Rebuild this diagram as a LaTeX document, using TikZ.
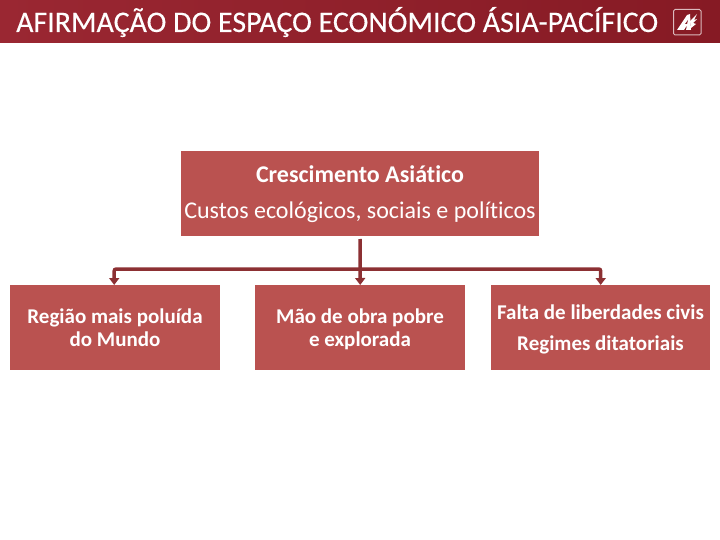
\documentclass[tikz,border=0pt]{standalone}
\usepackage{fontspec}
\setmainfont{Carlito}[Ligatures=NoCommon]
\newfontfamily\titlefont{Carlito}[Ligatures=NoCommon,FakeBold=0.25]
\usetikzlibrary{arrows.meta}
\definecolor{boxred}{HTML}{BA5250}
\definecolor{linered}{HTML}{8C3033}
\definecolor{barL}{HTML}{9A2732}
\definecolor{barM}{HTML}{8C1E28}
\definecolor{barR}{HTML}{861A24}
\tikzset{
  x=1pt,y=-1pt,
  redbox/.style={fill=boxred,draw=none,inner sep=0pt,text=white,align=center,anchor=north west},
  conn/.style={draw=linered,line width=3.5pt,-{Triangle[length=7pt,width=10pt]}},
  boxtext/.style={text=white,inner sep=0pt,align=center,font=\fontsize{21}{23}\selectfont\bfseries},
}
\begin{document}
\begin{tikzpicture}
\useasboundingbox (0,0) rectangle (720,540);
\fill[left color=barL,middle color=barM,right color=barR] (0,0) rectangle (720,43);
\node[text=white,font=\titlefont\fontsize{29.9}{32}\selectfont,anchor=base west,inner sep=0pt] (title) at (16,32) {AFIRMAÇÃO DO ESPAÇO ECONÓMICO ÁSIA-PACÍFICO};
% logo
\draw[draw=white!70!barR,line width=1pt,rounded corners=1.5pt] (673.5,9.5) rectangle (701,35);
\fill[white] (677,30) -- (684,30) -- (687,25) -- (686,30) -- (691,30) -- (690,14) -- (687,15) -- cycle;
\fill[white] (690,21) -- (697,14) -- (694,20) -- (697,19) -- (693,23) -- (696,24) -- (691,28) -- cycle;
\fill[barR] (685,24) -- (688,20) -- (687,24) -- cycle;
% boxes
\node[redbox,minimum width=358pt,minimum height=85pt] (top) at (181,151) {};
\node[boxtext,font=\fontsize{24}{26}\selectfont\bfseries] (t1) at (360,174.5) {Crescimento Asiático};
\node[boxtext,font=\fontsize{24}{26}\selectfont] (t2) at (360,212.5) {Custos ecológicos, sociais e políticos};
\node[redbox,minimum width=210pt,minimum height=85pt] (left) at (10,285) {};
\node[boxtext] (lt) at (115,327.5) {Região mais poluída\\do Mundo};
\node[redbox,minimum width=210pt,minimum height=85pt] (mid) at (255,285) {};
\node[boxtext] (mt) at (360,329.5) {Mão de obra pobre\\e explorada};
\node[redbox,minimum width=219pt,minimum height=85pt] (right) at (491,285) {};
\node[boxtext] (r1) at (600.5,312) {Falta de liberdades civis};
\node[boxtext] (r2) at (600.5,345) {Regimes ditatoriais};
% connectors
\coordinate (start) at (360,239);
\coordinate (bus) at (360,269);
\draw[conn] (start) -- (mid.north);
\draw[conn,rounded corners=2pt] (bus) -| ([xshift=-1pt]left.north);
\draw[conn,rounded corners=2pt] (bus) -| (right.north);
\end{tikzpicture}
\end{document}
